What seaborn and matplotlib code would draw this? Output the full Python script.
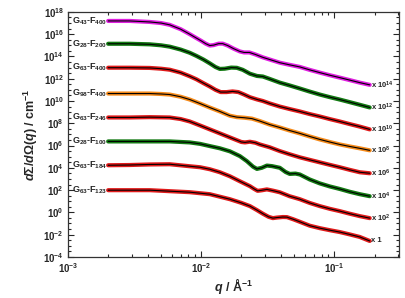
import numpy as np
import pandas as pd
import matplotlib
matplotlib.use("Agg")
import matplotlib.pyplot as plt
import matplotlib.ticker as mticker
import seaborn as sns

# Sample names, scale factors and colours (top to bottom)
names = ["G$_{43}$-F$_{400}$", "G$_{28}$-F$_{200}$", "G$_{63}$-F$_{400}$", "G$_{98}$-F$_{400}$",
         "G$_{63}$-F$_{246}$", "G$_{28}$-F$_{100}$", "G$_{63}$-F$_{184}$", "G$_{63}$-F$_{123}$"]
factors = ["x 10$^{14}$", "x 10$^{12}$", "x 10$^{10}$", "x 10$^{8}$",
           "x 10$^{6}$", "x 10$^{4}$", "x 10$^{2}$", "x 1"]
colors = ["#e01ee0", "#137a13", "#e01a1a", "#f58a1a",
          "#e01a1a", "#137a13", "#e01a1a", "#e01a1a"]

# q in 1/A and log10 of the scaled intensity
q1 = [0.0020, 0.0029, 0.0041, 0.0050, 0.0058, 0.0070, 0.0082, 0.0092, 0.0100, 0.0108, 0.0116, 0.0124,
      0.0135, 0.0145, 0.0158, 0.0175, 0.0195, 0.0210, 0.0230, 0.0255, 0.0290, 0.0340, 0.0389, 0.0460,
      0.0550, 0.0650, 0.0776, 0.0920, 0.1096, 0.1300, 0.1549, 0.1841]
y1 = [17.19, 17.19, 17.10, 17.00, 16.84, 16.45, 16.00, 15.65, 15.40, 15.15, 14.98, 15.02,
      15.15, 15.15, 14.98, 14.70, 14.45, 14.36, 14.36, 14.18, 13.92, 13.66, 13.44, 13.25,
      13.06, 12.80, 12.55, 12.32, 12.10, 11.88, 11.65, 11.45]

q2 = [0.0020, 0.0029, 0.0041, 0.0050, 0.0058, 0.0070, 0.0082, 0.0092, 0.0104, 0.0116, 0.0128, 0.0138,
      0.0150, 0.0168, 0.0185, 0.0205, 0.0232, 0.0262, 0.0290, 0.0327, 0.0389, 0.0460, 0.0550, 0.0650,
      0.0776, 0.0920, 0.1096, 0.1300, 0.1549, 0.1841]
y2 = [15.14, 15.14, 15.09, 15.00, 14.88, 14.62, 14.33, 14.05, 13.72, 13.38, 13.05, 12.88,
      12.90, 13.00, 12.98, 12.80, 12.45, 12.25, 12.20, 11.98, 11.65, 11.40, 11.12, 10.85,
      10.58, 10.35, 10.13, 9.90, 9.66, 9.42]

q3 = [0.0020, 0.0029, 0.0041, 0.0050, 0.0058, 0.0070, 0.0082, 0.0092, 0.0104, 0.0116, 0.0128, 0.0140,
      0.0155, 0.0172, 0.0190, 0.0210, 0.0232, 0.0262, 0.0290, 0.0327, 0.0389, 0.0460, 0.0550, 0.0650,
      0.0776, 0.0920, 0.1096, 0.1300, 0.1549, 0.1841]
y3 = [12.99, 12.99, 12.97, 12.90, 12.81, 12.55, 12.22, 11.95, 11.60, 11.30, 11.00, 10.80,
      10.80, 10.86, 10.80, 10.58, 10.34, 10.14, 10.00, 9.78, 9.50, 9.28, 9.06, 8.83,
      8.61, 8.38, 8.16, 7.93, 7.70, 7.45]

q4 = [0.0020, 0.0029, 0.0041, 0.0050, 0.0058, 0.0070, 0.0082, 0.0098, 0.0116, 0.0138, 0.0164, 0.0185,
      0.0210, 0.0240, 0.0275, 0.0327, 0.0389, 0.0460, 0.0550, 0.0650, 0.0776, 0.0920, 0.1096, 0.1300,
      0.1549, 0.1841]
y4 = [10.67, 10.67, 10.67, 10.63, 10.58, 10.38, 10.13, 9.77, 9.41, 9.06, 8.68, 8.55,
      8.50, 8.42, 8.20, 7.88, 7.62, 7.35, 7.09, 6.82, 6.55, 6.32, 6.10, 5.92,
      5.75, 5.57]

q5 = [0.0020, 0.0029, 0.0041, 0.0058, 0.0070, 0.0082, 0.0098, 0.0116, 0.0138, 0.0164, 0.0185, 0.0200,
      0.0213, 0.0232, 0.0255, 0.0275, 0.0327, 0.0389, 0.0460, 0.0550, 0.0650, 0.0776, 0.0920, 0.1096,
      0.1300, 0.1549, 0.1841]
y5 = [8.52, 8.52, 8.55, 8.52, 8.38, 8.16, 7.80, 7.45, 7.09, 6.73, 6.48, 6.32,
      6.28, 6.34, 6.25, 6.10, 5.84, 5.50, 5.22, 4.94, 4.72, 4.49, 4.27, 4.05,
      3.82, 3.60, 3.51]

q6 = [0.0020, 0.0041, 0.0058, 0.0082, 0.0098, 0.0116, 0.0138, 0.0164, 0.0195, 0.0220, 0.0245, 0.0262,
      0.0285, 0.0311, 0.0340, 0.0389, 0.0430, 0.0462, 0.0510, 0.0550, 0.0653, 0.0776, 0.0920, 0.1096,
      0.1300, 0.1549, 0.1841]
y6 = [6.37, 6.37, 6.37, 6.28, 6.15, 5.95, 5.75, 5.48, 5.05, 4.60, 4.10, 3.90,
      4.00, 4.20, 4.15, 4.00, 3.62, 3.45, 3.48, 3.40, 2.95, 2.60, 2.33, 2.10,
      1.85, 1.63, 1.45]

q7 = [0.0020, 0.0029, 0.0041, 0.0058, 0.0082, 0.0098, 0.0116, 0.0138, 0.0164, 0.0195, 0.0232, 0.0250,
      0.0265, 0.0285, 0.0311, 0.0345, 0.0389, 0.0460, 0.0550, 0.0650, 0.0776, 0.0920, 0.1096, 0.1300,
      0.1549, 0.1841]
y7 = [4.23, 4.25, 4.30, 4.32, 4.14, 4.05, 3.87, 3.60, 3.24, 2.79, 2.35, 2.10,
      1.93, 1.98, 2.06, 1.95, 1.80, 1.45, 1.18, 0.85, 0.56, 0.32, 0.11, -0.12,
      -0.34, -0.52]

q8 = [0.0020, 0.0029, 0.0041, 0.0058, 0.0082, 0.0116, 0.0164, 0.0200, 0.0232, 0.0262, 0.0290, 0.0320,
      0.0345, 0.0370, 0.0410, 0.0440, 0.0490, 0.0550, 0.0653, 0.0776, 0.0920, 0.1096, 0.1300, 0.1549,
      0.1841]
y8 = [1.99, 1.99, 1.99, 1.90, 1.81, 1.63, 1.18, 0.85, 0.56, 0.20, -0.12, -0.40,
      -0.52, -0.47, -0.42, -0.43, -0.62, -0.85, -1.20, -1.42, -1.60, -1.77, -1.98, -2.21,
      -2.57]

qs = [q1, q2, q3, q4, q5, q6, q7, q8]
ys = [y1, y2, y3, y4, y5, y6, y7, y8]

sns.set_style("ticks")
plt.rcParams["font.family"] = ["Liberation Sans", "DejaVu Sans"]
plt.rcParams["font.weight"] = "bold"
plt.rcParams["mathtext.fontset"] = "custom"
plt.rcParams["mathtext.rm"] = "Liberation Sans:bold"
plt.rcParams["mathtext.it"] = "Liberation Sans:bold:italic"
plt.rcParams["mathtext.bf"] = "Liberation Sans:bold"

fig = plt.figure(figsize=(4.05, 2.98), dpi=100)
ax = fig.add_axes([0.168, 0.138, 0.817, 0.822])

for i in range(8):
    df = pd.DataFrame({"q": qs[i], "I": np.power(10.0, ys[i])})
    sns.lineplot(data=df, x="q", y="I", color=colors[i], lw=3.0, ax=ax)
    sns.lineplot(data=df, x="q", y="I", color="black", lw=0.8, ax=ax)
    ax.text(0.00108, 10 ** (ys[i][0]), names[i], fontsize=6.5, fontweight="bold",
            ha="left", va="center")
    ax.text(qs[i][-1] * 1.03, 10 ** (ys[i][-1]), factors[i], fontsize=5.5,
            fontweight="bold", ha="left", va="center")

ax.set_xscale("log")
ax.set_yscale("log")
ax.set_xlim(1e-3, 0.305)
ax.set_ylim(1e-4, 1e18)

ax.xaxis.set_major_locator(mticker.LogLocator(base=10, numticks=10))
ax.xaxis.set_minor_locator(mticker.LogLocator(base=10, subs=np.arange(2, 10), numticks=20))
ax.yaxis.set_major_locator(mticker.FixedLocator([10.0 ** k for k in range(-4, 19, 2)]))
ax.yaxis.set_minor_locator(mticker.FixedLocator([10.0 ** (k / 2) for k in range(-8, 37) if k % 4 != 0]))
ax.yaxis.set_minor_formatter(mticker.NullFormatter())

ax.tick_params(which="both", direction="in", top=True, right=True, labelsize=7, width=0.8)
ax.tick_params(which="major", length=4, pad=3)
ax.tick_params(which="minor", length=2)
for lab in ax.get_xticklabels() + ax.get_yticklabels():
    lab.set_fontweight("bold")
for sp in ax.spines.values():
    sp.set_linewidth(0.9)
    sp.set_color("#333333")

ax.set_xlabel(r"$q$ / Å$^{-1}$", fontsize=9, fontweight="bold", labelpad=1)
ax.set_ylabel(r"$d\Sigma/d\Omega(q)$ / cm$^{-1}$", fontsize=9, fontweight="bold", labelpad=2)

fig.savefig("out.png", dpi=100)
